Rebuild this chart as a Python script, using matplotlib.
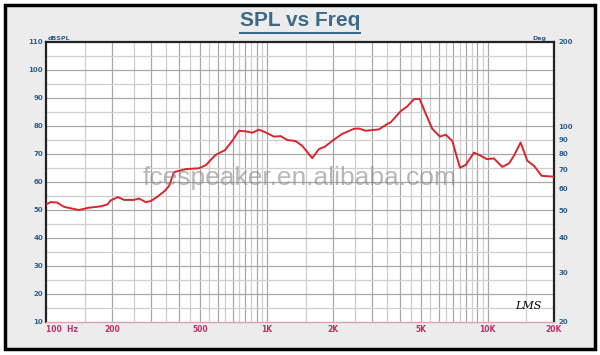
import matplotlib
matplotlib.use("Agg")
import matplotlib.pyplot as plt
from matplotlib.patches import Rectangle
from matplotlib.ticker import NullLocator

# SPL response (Hz, dB)
freq_hz = [100, 105, 112, 121, 141, 156, 177, 190, 196, 212, 226, 250, 264, 283,
           298, 319, 345, 361, 380, 429, 493, 529, 587, 647, 698, 748, 802, 860,
           922, 988, 1078, 1156, 1238, 1352, 1448, 1607, 1724, 1834, 1980, 2198,
           2483, 2616, 2805, 3222, 3513, 3640, 4041, 4329, 4642, 4926, 5245, 5618,
           6085, 6459, 6920, 7499, 7961, 8680, 9307, 9906, 10690, 11660, 12500,
           13170, 14120, 15130, 16230, 17580, 20000]
spl_db = [52.0, 52.8, 52.7, 51.1, 50.0, 50.8, 51.3, 52.0, 53.4, 54.6, 53.6, 53.6,
          54.1, 52.8, 53.2, 54.7, 56.8, 58.6, 63.5, 64.6, 64.9, 66.0, 69.7, 71.4,
          74.7, 78.3, 78.1, 77.6, 78.7, 77.7, 76.2, 76.4, 75.0, 74.6, 72.9, 68.5,
          71.8, 72.6, 74.7, 77.2, 79.0, 79.1, 78.3, 78.8, 80.7, 81.3, 85.3, 87.0,
          89.6, 89.7, 84.4, 79.0, 76.2, 76.9, 74.7, 65.1, 66.1, 70.5, 69.4, 68.2,
          68.4, 65.4, 66.6, 69.4, 74.1, 67.6, 65.8, 62.2, 61.9]

x_ticks = [100, 200, 500, 1000, 2000, 5000, 10000, 20000]
x_labels = ["100  Hz", "200", "500", "1K", "2K", "5K", "10K", "20K"]
db_ticks = [10, 20, 30, 40, 50, 60, 70, 80, 90, 100, 110]
deg_ticks = [20, 30, 40, 50, 60, 70, 80, 90, 100, 200]

BLUE = "#2f5f8c"
CRIMSON = "#c0306a"

fig = plt.figure(figsize=(6.0, 3.55), dpi=100)
fig.patch.set_facecolor("white")
frame = Rectangle((5 / 600, 1 - 349 / 355), 590 / 600, 344 / 355,
                  transform=fig.transFigure, facecolor="#ececec",
                  edgecolor="black", linewidth=2.5, zorder=-10)
fig.patches.append(frame)

ax = fig.add_axes([46 / 600, 1 - 322 / 355, 508 / 600, 280 / 355])
ax.set_facecolor("white")
ax.set_xscale("log")
ax.set_xlim(100, 20000)
ax.set_ylim(10, 110)

# grid like the LMS plot: 50 Hz steps to 1K, 500 Hz to 10K, 5K above
for decade in (100, 1000, 10000):
    for k in range(2, 20):
        f = decade * k / 2
        if f >= 20000 or f <= 100:
            continue
        dark = (k % 2 == 0)
        ax.axvline(f, color="#a8a8a8" if dark else "#cfcfcf", lw=0.9, zorder=1)
for y in range(15, 110, 5):
    ax.axhline(y, color="#a8a8a8" if y % 10 == 0 else "#cfcfcf", lw=0.9, zorder=1)

ax.plot(freq_hz, spl_db, color="#d7262e", lw=1.4, zorder=3)

ax.xaxis.set_minor_locator(NullLocator())
ax.set_xticks(x_ticks)
ax.set_xticklabels(x_labels, fontsize=5.5, color=CRIMSON, fontweight="bold")
ax.set_yticks(db_ticks)
ax.set_yticklabels([str(v) for v in db_ticks], fontsize=5, color=BLUE, fontweight="bold")
ax.tick_params(axis="both", length=0, pad=2)
ax.get_xticklabels()[0].set_horizontalalignment("left")

for side in ("left", "top", "right"):
    ax.spines[side].set_color("#222222")
    ax.spines[side].set_linewidth(1.6)
ax.spines["bottom"].set_color("#e0a0b4")
ax.spines["bottom"].set_linewidth(1.0)

ax2 = ax.twinx()
ax2.set_yscale("log")
ax2.set_ylim(20, 200)
ax2.yaxis.set_minor_locator(NullLocator())
ax2.set_yticks(deg_ticks)
ax2.set_yticklabels([str(v) for v in deg_ticks], fontsize=5, color=BLUE, fontweight="bold")
ax2.tick_params(axis="y", length=0, pad=3)
for s in ax2.spines.values():
    s.set_visible(False)

ax.text(0.004, 1.005, "dBSPL", transform=ax.transAxes, fontsize=4.5,
        color=BLUE, fontweight="bold", va="bottom", ha="left")
ax.text(0.985, 1.005, "Deg", transform=ax.transAxes, fontsize=4.5,
        color=BLUE, fontweight="bold", va="bottom", ha="right")
ax.text(0.975, 0.04, "LMS", transform=ax.transAxes, fontsize=8, style="italic",
        family="DejaVu Serif", color="black", ha="right", va="bottom")

fig.text(0.5, 1 - 21 / 355, "SPL vs Freq", ha="center", va="center",
         fontsize=15, fontweight="bold", color="#3d6a88", family="Liberation Sans")
fig.add_artist(plt.Line2D([240 / 600, 360 / 600], [1 - 33 / 355, 1 - 33 / 355],
                          color="#3d6a88", lw=1.5, transform=fig.transFigure))

fig.text(0.5, 1 - 178 / 355, "fcespeaker.en.alibaba.com", ha="center", va="center",
         fontsize=19, color="#8a8a8a", alpha=0.6, family="Liberation Sans", zorder=5)

fig.savefig("out.png", dpi=100)
